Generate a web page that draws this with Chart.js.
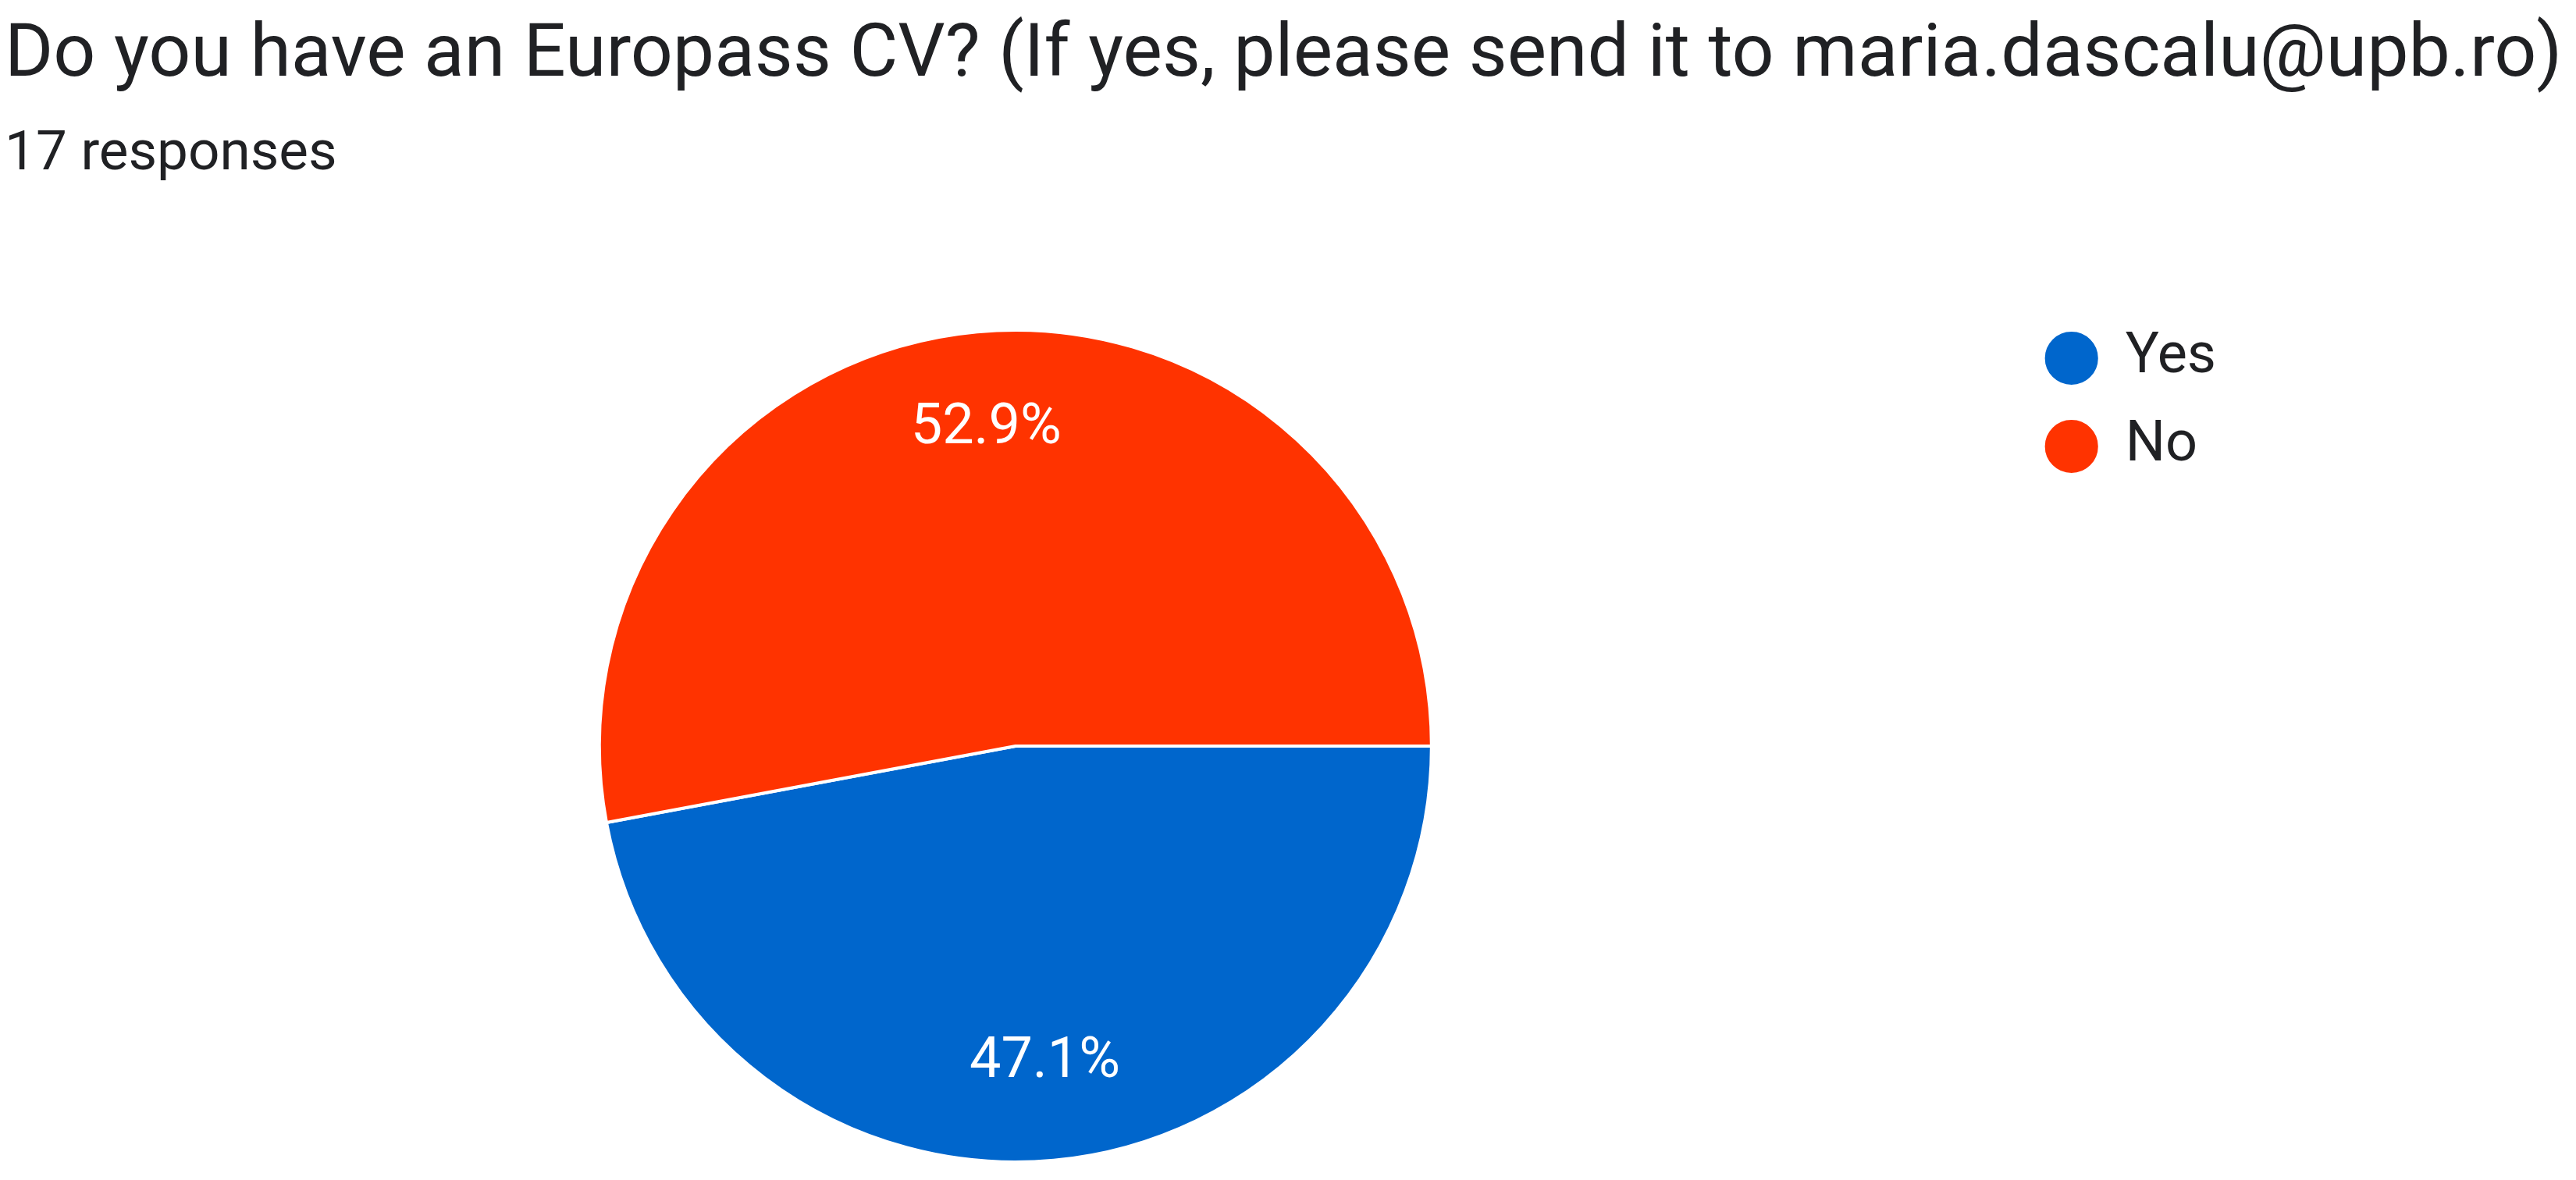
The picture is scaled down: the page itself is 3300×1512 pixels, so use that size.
<!DOCTYPE html>
<html>
<head>
<meta charset="utf-8">
<script src="https://cdn.jsdelivr.net/npm/chart.js@4.4.1/dist/chart.umd.min.js"></script>
<style>
  html, body { margin: 0; padding: 0; background: #fff; overflow: hidden; }
  body { position: relative; width: 3300px; height: 1512px; font-family: Roboto, sans-serif; color: #202124; }
  .title, .subtitle { position: absolute; left: 6px; white-space: nowrap; line-height: 1; }
  .title { top: 17px; font-size: 95px; }
  .subtitle { top: 157px; font-size: 71px; }
  #chart { position: absolute; left: 0; top: 0; display: block; }
</style>
</head>
<body>
<div class="title" id="title"></div>
<div class="subtitle" id="subtitle"></div>
<canvas id="chart" width="3300" height="1540"></canvas>
<script>
const labels = ['Yes', 'No'];
const counts = [8, 9];
const colors = ['#0066cc', '#ff3300'];
const titleText = 'Do you have an Europass CV? (If yes, please send it to maria.dascalu@upb.ro)';
const subtitleText = '17 responses';

document.getElementById('title').textContent = titleText;
document.getElementById('subtitle').textContent = subtitleText;

// percentage labels inside the slices
const sliceLabels = {
    id: 'sliceLabels',
    afterDatasetsDraw(chart) {
        const ctx = chart.ctx;
        const data = chart.data.datasets[0].data;
        const total = data.reduce((a, b) => a + b, 0);
        chart.getDatasetMeta(0).data.forEach((arc, i) => {
            const p = arc.getProps(['x', 'y', 'startAngle', 'endAngle', 'outerRadius']);
            const mid = (p.startAngle + p.endAngle) / 2;
            const r = p.outerRadius * 0.765;
            ctx.save();
            ctx.fillStyle = '#fff';
            ctx.font = '72px Roboto';
            ctx.textAlign = 'center';
            ctx.textBaseline = 'middle';
            ctx.fillText((data[i] / total * 100).toFixed(1) + '%', p.x + Math.cos(mid) * r, p.y + Math.sin(mid) * r);
            ctx.restore();
        });
    }
};

new Chart(document.getElementById('chart'), {
    type: 'pie',
    data: {
        labels: labels,
        datasets: [{
            data: counts,
            backgroundColor: colors,
            borderColor: '#fff',
            borderWidth: 4,
            hoverOffset: 0,
            radius: 533
        }]
    },
    options: {
        responsive: false,
        devicePixelRatio: 1,
        animation: false,
        rotation: 90,
        layout: { padding: { left: 22, right: 451, top: 382, bottom: 10 } },
        plugins: {
            tooltip: { enabled: false },
            legend: {
                position: 'right',
                align: 'start',
                labels: {
                    usePointStyle: true,
                    pointStyle: 'circle',
                    boxWidth: 66,
                    boxHeight: 51,
                    padding: 41,
                    color: '#202124',
                    font: { family: 'Roboto', size: 72 }
                }
            }
        }
    },
    plugins: [sliceLabels]
});
</script>
</body>
</html>
